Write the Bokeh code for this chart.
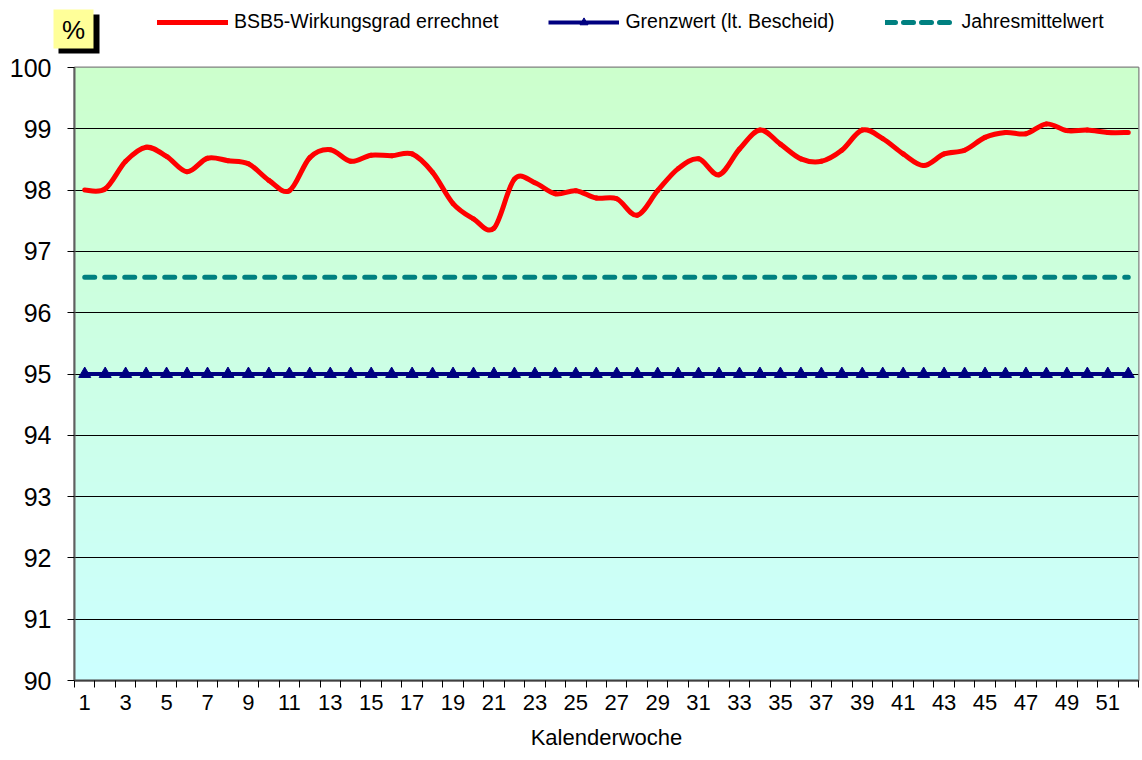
import numpy as np
from bokeh.plotting import figure
from bokeh.layouts import column
from bokeh.models import Range1d, FixedTicker, Legend, LegendItem
from bokeh.core.properties import value
from bokeh.embed import file_html
from bokeh.resources import INLINE

# ---------------- data ----------------
weeks = list(range(1, 53))
bsb5 = [98.00, 98.02, 98.47, 98.70, 98.55, 98.30, 98.52, 98.48, 98.43, 98.16,
        97.99, 98.53, 98.66, 98.47, 98.57, 98.56, 98.59, 98.29, 97.78, 97.53,
        97.38, 98.18, 98.12, 97.94, 97.99, 97.87, 97.86, 97.59, 97.99, 98.35,
        98.51, 98.25, 98.67, 98.98, 98.75, 98.51, 98.47, 98.65, 98.98, 98.84,
        98.59, 98.40, 98.59, 98.65, 98.86, 98.94, 98.92, 99.08, 98.97, 98.98,
        98.94, 98.94]
grenzwert = [95.0] * 52
jahresmittel = [96.58] * 52
y_ticks = [90, 91, 92, 93, 94, 95, 96, 97, 98, 99, 100]
x_labels = [str(w) for w in weeks if w % 2 == 1]
unit_label = "%"

FONT = "Liberation Sans"
RED, NAVY, TEAL = "#FF0000", "#000080", "#008080"

# ---------------- header (unit box + legend) ----------------
HDR_H = 55
hdr = figure(width=1142, height=HDR_H, output_backend="svg", toolbar_location=None,
             x_range=Range1d(0, 1142), y_range=Range1d(HDR_H, 0),
             x_axis_location=None, y_axis_location=None,
             min_border_left=0, min_border_right=0, min_border_top=0, min_border_bottom=0)
hdr.grid.visible = False
hdr.outline_line_color = None
hdr.background_fill_color = "white"
hdr.border_fill_color = "white"
if "frame_align" in hdr.properties():
    hdr.frame_align = False

# unit box with drop shadow
hdr.quad(left=[58], right=[99], top=[14], bottom=[53], fill_color="black", line_color=None)
hdr.quad(left=[53], right=[93], top=[9], bottom=[48], fill_color="#FFFF99", line_color=None)
hdr.text(x=[73], y=[29], text=[unit_label], text_font=value(FONT), text_font_size="26px",
         text_color="black", text_align="center", text_baseline="middle")

# legend proxies (their data lie outside the header's visible range; used only for the legend)
pr_bsb = hdr.line(weeks, bsb5, line_color=RED, line_width=5, line_cap="round")
pr_gw_l = hdr.line(weeks, grenzwert, line_color=NAVY, line_width=4)
pr_gw_m = hdr.scatter(weeks, grenzwert, marker="triangle", size=11,
                      fill_color=NAVY, line_color=NAVY)
pr_jm = hdr.line(weeks, jahresmittel, line_color=TEAL, line_width=5,
                 line_dash="10 8", line_cap="round")

legend = Legend(items=[
    LegendItem(label="BSB5-Wirkungsgrad errechnet", renderers=[pr_bsb]),
    LegendItem(label="Grenzwert (lt. Bescheid)", renderers=[pr_gw_l, pr_gw_m]),
    LegendItem(label="Jahresmittelwert", renderers=[pr_jm]),
], location=(157, 22), orientation="horizontal", glyph_width=71, glyph_height=20,
   label_standoff=6, spacing=50, padding=0, margin=0, border_line_color=None,
   background_fill_alpha=0, label_text_font=FONT, label_text_font_size="19.5px",
   label_text_color="black", label_height=20)
hdr.add_layout(legend)

# ---------------- main chart ----------------
p = figure(width=1142, height=760 - HDR_H, output_backend="svg", toolbar_location=None,
           x_range=Range1d(0.5, 52.5), y_range=Range1d(90, 100),
           min_border_left=74, min_border_right=4, min_border_top=67 - HDR_H,
           min_border_bottom=80)
p.background_fill_color = "white"
p.border_fill_color = "white"
p.outline_line_color = "#808080"
p.outline_line_width = 2
if "frame_align" in p.properties():
    p.frame_align = False

# gradient background of the plot area (green top -> cyan bottom)
n = 200
t = np.linspace(0.0, 1.0, n)
img = np.empty((n, 1), dtype=np.uint32)
view = img.view(dtype=np.uint8).reshape((n, 1, 4))
view[:, 0, 0] = 204
view[:, 0, 1] = 255
view[:, 0, 2] = np.round(255 - 51 * t).astype(np.uint8)
view[:, 0, 3] = 255
p.image_rgba(image=[img], x=0.5, y=90, dw=52, dh=10, level="image")

# grid
p.xgrid.visible = False
p.ygrid.ticker = FixedTicker(ticks=y_ticks)
p.ygrid.grid_line_color = "black"
p.ygrid.grid_line_width = 1
p.ygrid.level = "image"

# Grenzwert
p.line(weeks, grenzwert, line_color=NAVY, line_width=4)
p.scatter(weeks, grenzwert, marker="triangle", size=12, fill_color=NAVY, line_color=NAVY)

# Jahresmittelwert
p.line(weeks, jahresmittel, line_color=TEAL, line_width=5, line_dash="10 10", line_cap="round")

# BSB5 smoothed curve (Catmull-Rom -> Bezier, like a spreadsheet's smoothed line)
xa = np.array(weeks, dtype=float)
ya = np.array(bsb5, dtype=float)
xp = np.concatenate([[xa[0]], xa, [xa[-1]]])
yp = np.concatenate([[ya[0]], ya, [ya[-1]]])
m = len(xa)
x0, y0 = xp[1:m], yp[1:m]
x1, y1 = xp[2:m + 1], yp[2:m + 1]
cx0 = x0 + (xp[2:m + 1] - xp[0:m - 1]) / 6.0
cy0 = y0 + (yp[2:m + 1] - yp[0:m - 1]) / 6.0
cx1 = x1 - (xp[3:m + 2] - xp[1:m]) / 6.0
cy1 = y1 - (yp[3:m + 2] - yp[1:m]) / 6.0
p.bezier(x0=x0, y0=y0, x1=x1, y1=y1, cx0=cx0, cy0=cy0, cx1=cx1, cy1=cy1,
         line_color=RED, line_width=5, line_cap="round")

# axes
p.yaxis.ticker = FixedTicker(ticks=y_ticks)
p.yaxis.major_label_text_font = FONT
p.yaxis.major_label_text_font_size = "25px"
p.yaxis.major_label_text_color = "black"
p.yaxis.major_tick_out = 7
p.yaxis.major_tick_in = 0
p.yaxis.minor_tick_line_color = None
p.yaxis.axis_line_color = "#606060"
p.yaxis.axis_line_width = 2
p.yaxis.major_tick_line_color = "black"
p.yaxis.major_label_standoff = 16

p.xaxis.ticker = FixedTicker(ticks=[int(s) for s in x_labels],
                             minor_ticks=[w - 0.5 for w in weeks] + [52.5])
p.xaxis.major_tick_out = 0
p.xaxis.major_tick_in = 0
p.xaxis.minor_tick_out = 7
p.xaxis.minor_tick_in = 0
p.xaxis.minor_tick_line_color = "black"
p.xaxis.axis_line_color = "#404040"
p.xaxis.axis_line_width = 2
p.xaxis.major_label_text_font = FONT
p.xaxis.major_label_text_font_size = "22px"
p.xaxis.major_label_text_color = "black"
p.xaxis.major_label_standoff = 7
p.xaxis.axis_label = "Kalenderwoche"
p.xaxis.axis_label_text_font = FONT
p.xaxis.axis_label_text_font_size = "22px"
p.xaxis.axis_label_text_font_style = "normal"
p.xaxis.axis_label_text_color = "black"
p.xaxis.axis_label_standoff = 12

layout = column(hdr, p, spacing=0)
open("out.html", "w").write(file_html(layout, INLINE))
